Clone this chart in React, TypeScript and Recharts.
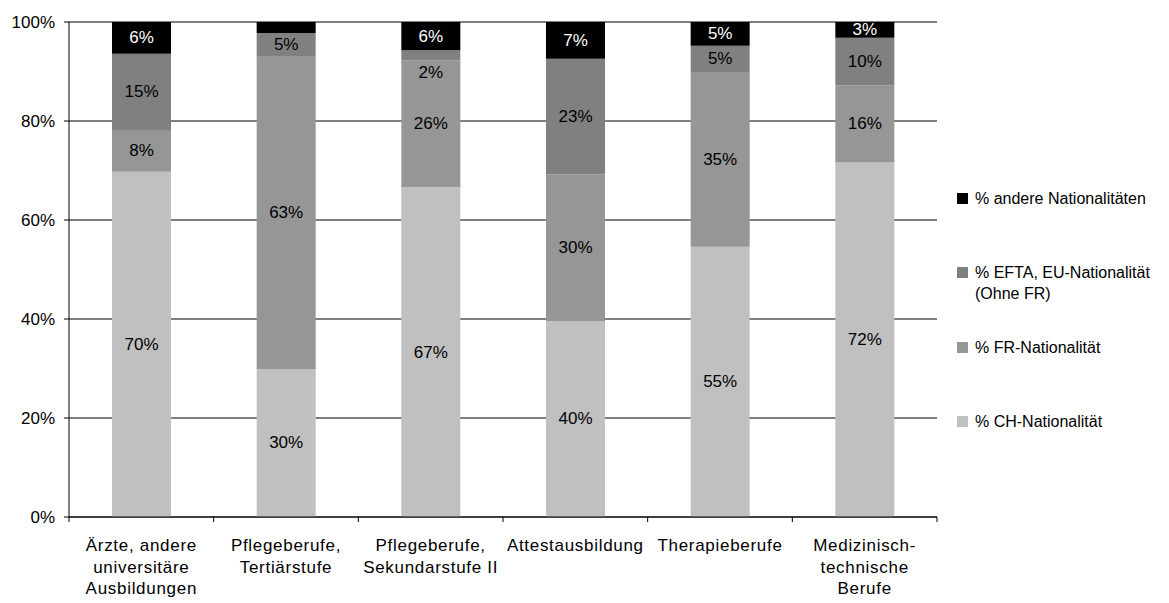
import { Bar, BarChart, CartesianGrid, LabelList, Legend, XAxis, YAxis } from "recharts"

const categories = [
  "Ärzte, andere\nuniversitäre\nAusbildungen",
  "Pflegeberufe,\nTertiärstufe",
  "Pflegeberufe,\nSekundarstufe II",
  "Attestausbildung",
  "Therapieberufe",
  "Medizinisch-\ntechnische\nBerufe"
]
const chValues = [69.7, 29.9, 66.6, 39.6, 54.6, 71.6]
const frValues = [8.4, 63.1, 25.6, 29.6, 35.3, 15.6]
const eftaValues = [15.4, 4.8, 2.1, 23.4, 5.3, 9.6]
const otherValues = [6.4, 2.2, 5.7, 7.4, 4.8, 3.2]
const yTicks = [0, 0.2, 0.4, 0.6, 0.8, 1]

const seriesNames = {
  ch: "% CH-Nationalität",
  fr: "% FR-Nationalität",
  efta: "% EFTA, EU-Nationalität\n(Ohne FR)",
  other: "% andere Nationalitäten"
}

const data = categories.map((name, i) => ({
  name,
  ch: chValues[i],
  fr: frValues[i],
  efta: eftaValues[i],
  other: otherValues[i]
}))

const series = [
  { key: "ch", color: "#c0c0c0", text: "#000" },
  { key: "fr", color: "#969696", text: "#000" },
  { key: "efta", color: "#808080", text: "#000" },
  { key: "other", color: "#000000", text: "#fff" }
] as const

const FONT = "'Liberation Sans', Arial, sans-serif"
const WIDTH = 1169
const HEIGHT = 603
const LEFT = 69
const RIGHT = 232
const BAND = (WIDTH - LEFT - RIGHT) / categories.length

function CategoryTick(props: any) {
  const { x, y, payload, index } = props
  const lines = String(payload.value).split("\n")
  return (
    <g>
      <line x1={x - BAND / 2} x2={x - BAND / 2} y1={y} y2={y + 5} stroke="#000" />
      {index === categories.length - 1 && (
        <line x1={x + BAND / 2} x2={x + BAND / 2} y1={y} y2={y + 5} stroke="#000" />
      )}
      <text
        x={x}
        y={y + 34}
        textAnchor="middle"
        fontSize={17}
        letterSpacing={0.7}
        fill="#000"
        fontFamily={FONT}
      >
        {lines.map((line, i) => (
          <tspan key={i} x={x} dy={i === 0 ? 0 : 21.5}>
            {line}
          </tspan>
        ))}
      </text>
    </g>
  )
}

// Excel pushes the tiny 2% label below its slice
function makeLabel(color: string, hideBelow: number, nudgeBelow: number) {
  return (props: any) => {
    const { x, y, width, height, value } = props
    if (value < hideBelow) return null
    const dy = value < nudgeBelow ? 17 : 0
    return (
      <text
        x={x + width / 2}
        y={y + height / 2 + dy}
        textAnchor="middle"
        dominantBaseline="central"
        fontSize={17}
        fontFamily={FONT}
        fill={color}
      >
        {`${Math.round(value)}%`}
      </text>
    )
  }
}

function LegendContent() {
  return (
    <div style={{ fontFamily: FONT, fontSize: 16, color: "#000" }}>
      {[...series].reverse().map((s) => (
        <div key={s.key} style={{ height: 74.3, display: "flex", alignItems: "flex-start" }}>
          <span
            style={{ width: 11, height: 11, background: s.color, marginTop: 5, marginRight: 7, flexShrink: 0 }}
          />
          <span style={{ lineHeight: "21px", whiteSpace: "pre-line" }}>{seriesNames[s.key]}</span>
        </div>
      ))}
    </div>
  )
}

export default function App() {
  return (
    <div style={{ position: "absolute", left: 0, top: 0, fontFamily: FONT }}>
      <BarChart
        width={WIDTH}
        height={HEIGHT}
        data={data}
        stackOffset="expand"
        barSize={59}
        margin={{ top: 22, right: RIGHT, bottom: 0, left: 0 }}
      >
        <CartesianGrid yAxisId="left" vertical={false} stroke="#000" strokeWidth={1} />
        <XAxis
          dataKey="name"
          height={86}
          interval={0}
          tickLine={false}
          tickSize={0}
          tickMargin={0}
          axisLine={{ stroke: "#000" }}
          tick={<CategoryTick />}
        />
        <YAxis
          yAxisId="left"
          width={LEFT}
          domain={[0, 1]}
          ticks={yTicks}
          tickSize={5}
          tickMargin={9}
          tickLine={{ stroke: "#000" }}
          axisLine={{ stroke: "#000" }}
          tick={{ fill: "#000", fontSize: 17, fontFamily: FONT }}
          tickFormatter={(v: number) => `${Math.round(v * 100)}%`}
        />
        <YAxis
          yAxisId="right"
          orientation="right"
          width={0}
          domain={[0, 1]}
          ticks={yTicks}
          tick={false}
          tickLine={false}
          axisLine={{ stroke: "#000" }}
        />
        <Legend
          layout="vertical"
          align="center"
          verticalAlign="middle"
          wrapperStyle={{ left: 957, top: 188, width: 212 }}
          content={<LegendContent />}
        />
        {series.map((s) => (
          <Bar
            key={s.key}
            dataKey={s.key}
            name={seriesNames[s.key]}
            stackId="a"
            yAxisId="left"
            fill={s.color}
            isAnimationActive={false}
          >
            <LabelList
              dataKey={s.key}
              content={makeLabel(s.text, s.key === "other" ? 2.5 : 0, s.key === "efta" ? 3 : 0)}
            />
          </Bar>
        ))}
      </BarChart>
    </div>
  )
}
